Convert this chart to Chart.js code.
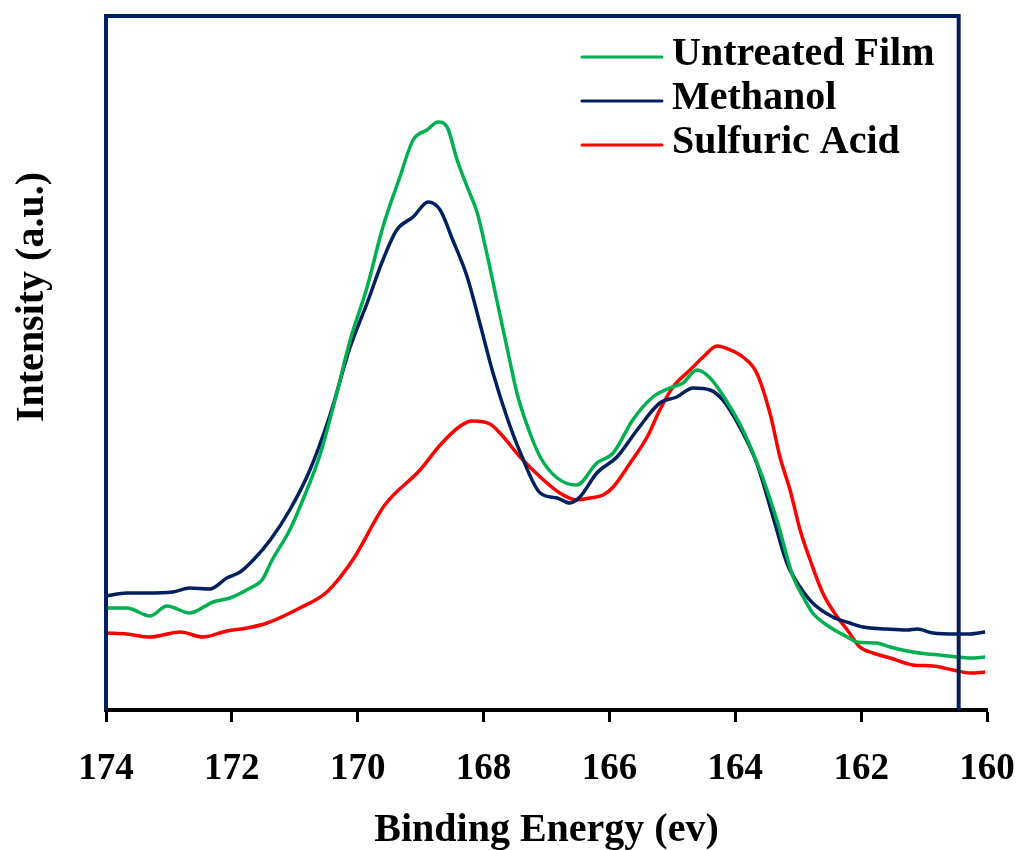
<!DOCTYPE html>
<html>
<head>
<meta charset="utf-8">
<script src="https://cdn.jsdelivr.net/npm/chart.js@4.4.1/dist/chart.umd.min.js"></script>
<style>
  html, body { margin: 0; padding: 0; background: #fff; }
  canvas { display: block; }
</style>
</head>
<body>
<canvas id="xpsChart" width="1021" height="850"></canvas>
<script>
'use strict';

// S 2p spectra (binding energy in eV, intensity in a.u.)
var untreatedEnergy = [174.00, 173.67, 173.30, 173.03, 172.67, 172.30, 172.03, 171.71, 171.52, 171.36,
  171.08, 170.84, 170.60, 170.36, 170.12, 169.85, 169.60, 169.33, 169.12, 168.90, 168.72, 168.58,
  168.42, 168.26, 168.10, 167.95, 167.79, 167.63, 167.47, 167.31, 167.10, 166.83, 166.52, 166.20,
  165.94, 165.63, 165.31, 165.04, 164.83, 164.61, 164.40, 164.13, 163.88, 163.61, 163.34, 163.08,
  162.92, 162.77, 162.50, 162.22, 162.07, 161.75, 161.54, 161.27, 160.95, 160.75, 160.48, 160.27, 160.03];
var untreatedIntensity = [102, 102, 94, 104, 97, 108, 112, 122, 130, 150,
  180, 215, 255, 310, 370, 423, 483, 533, 570, 580, 588, 583,
  550, 523, 497, 457, 410, 363, 317, 285, 253, 232, 225, 247,
  257, 290, 313, 322, 327, 340, 332, 308, 280, 240, 190, 133,
  113, 97, 83, 73, 68, 67, 63, 59, 56, 55, 53, 52, 53];

var methanolEnergy = [174.00, 173.67, 173.35, 172.94, 172.67, 172.35, 172.08, 171.87, 171.66, 171.39,
  171.08, 170.76, 170.44, 170.12, 169.85, 169.60, 169.38, 169.12, 168.88, 168.69, 168.49, 168.26,
  168.06, 167.85, 167.63, 167.42, 167.10, 166.83, 166.63, 166.47, 166.20, 165.88, 165.56, 165.20,
  164.93, 164.67, 164.40, 164.20, 163.93, 163.66, 163.40, 163.18, 162.97, 162.77, 162.45, 162.18,
  161.97, 161.59, 161.27, 161.11, 160.86, 160.48, 160.27, 160.03];
var methanolIntensity = [114, 117, 117, 118, 122, 121, 132, 138, 150, 170,
  200, 240, 295, 363, 407, 450, 480, 493, 508, 500, 470, 433,
  387, 337, 293, 258, 217, 212, 207, 213, 237, 253, 280, 307,
  313, 322, 320, 310, 283, 247, 193, 147, 123, 107, 93, 87,
  83, 81, 80, 81, 77, 76, 76, 78];

var sulfuricEnergy = [174.00, 173.67, 173.30, 172.82, 172.46, 172.08, 171.76, 171.44, 170.92, 170.49,
  170.08, 169.57, 169.01, 168.69, 168.37, 168.18, 167.90, 167.74, 167.42, 167.10, 166.79, 166.52,
  166.31, 166.10, 165.94, 165.67, 165.40, 165.20, 164.99, 164.72, 164.51, 164.29, 164.08, 163.88,
  163.66, 163.45, 163.29, 163.13, 162.97, 162.81, 162.61, 162.38, 162.22, 162.02, 161.81, 161.54,
  161.18, 160.86, 160.54, 160.27, 160.03];
var sulfuricIntensity = [77, 76, 73, 78, 73, 79, 82, 87, 102, 118,
  150, 205, 240, 265, 284, 289, 286, 277, 253, 233, 217, 210,
  212, 215, 223, 247, 273, 300, 323, 340, 353, 364, 360, 353,
  337, 297, 253, 220, 180, 150, 117, 93, 80, 63, 57, 52,
  45, 44, 40, 37, 38];

var seriesLabels = ['Untreated Film', 'Methanol', 'Sulfuric Acid'];
var seriesColors = ['#00B050', '#002060', '#FF0000'];
var xTicks = [174, 172, 170, 168, 166, 164, 162, 160];
var frameRightEnergy = 160.45;

function toPoints(energy, intensity) {
  return energy.map(function (e, i) {
    return {x: e, y: intensity[i]};
  });
}

// box around the plot, right edge stops short of the x axis end
var framePlugin = {
  id: 'frame',
  afterDatasetsDraw: function (chart) {
    var ctx = chart.ctx;
    var area = chart.chartArea;
    var right = chart.scales.x.getPixelForValue(frameRightEnergy);
    ctx.save();
    ctx.strokeStyle = '#002060';
    ctx.lineWidth = 4;
    ctx.beginPath();
    ctx.moveTo(area.left, area.bottom);
    ctx.lineTo(area.left, area.top + 2);
    ctx.lineTo(right, area.top + 2);
    ctx.lineTo(right, area.bottom);
    ctx.stroke();
    ctx.restore();
  }
};

// legend in the top right corner and the rotated y title
var labelsPlugin = {
  id: 'labels',
  afterDraw: function (chart) {
    var ctx = chart.ctx;
    ctx.save();
    ctx.font = 'bold 40px "Liberation Serif", "Times New Roman", serif';
    ctx.fillStyle = '#000';
    ctx.textBaseline = 'alphabetic';
    chart.data.datasets.forEach(function (ds, i) {
      var baseline = 65 + i * 44;
      ctx.strokeStyle = ds.borderColor;
      ctx.lineWidth = 3;
      ctx.lineCap = 'round';
      ctx.beginPath();
      ctx.moveTo(582, baseline - 8);
      ctx.lineTo(662, baseline - 8);
      ctx.stroke();
      ctx.textAlign = 'left';
      ctx.fillText(ds.label, 672, baseline);
    });

    ctx.translate(43, 297);
    ctx.rotate(-Math.PI / 2);
    ctx.textAlign = 'center';
    ctx.fillText('Intensity (a.u.)', 0, 0);
    ctx.restore();
  }
};

var datasets = [
  toPoints(untreatedEnergy, untreatedIntensity),
  toPoints(methanolEnergy, methanolIntensity),
  toPoints(sulfuricEnergy, sulfuricIntensity)
].map(function (points, i) {
  return {
    label: seriesLabels[i],
    data: points,
    borderColor: seriesColors[i],
    backgroundColor: seriesColors[i],
    borderWidth: 3.5,
    pointRadius: 0,
    cubicInterpolationMode: 'monotone',
    fill: false
  };
});

var context = document.getElementById('xpsChart').getContext('2d');
var myChart = new Chart(context, {
  type: 'line',
  data: {datasets: datasets},
  options: {
    responsive: false,
    animation: false,
    layout: {padding: {left: 106, right: 34, top: 14, bottom: 0}},
    plugins: {
      legend: {display: false},
      tooltip: {enabled: false}
    },
    scales: {
      x: {
        type: 'linear',
        reverse: true,
        min: 160,
        max: 174,
        afterFit: function (scale) {
          scale.height = 140;
          // layout padding already leaves room for the end labels
          scale.paddingLeft = 0;
          scale.paddingRight = 0;
        },
        afterBuildTicks: function (scale) {
          scale.ticks = xTicks.map(function (v) {
            return {value: v};
          });
        },
        ticks: {
          color: '#000',
          padding: 25,
          maxRotation: 0,
          font: {family: '"Liberation Serif", "Times New Roman", serif', size: 37, weight: 'bold'}
        },
        grid: {
          drawOnChartArea: false,
          drawTicks: true,
          tickLength: 12,
          tickColor: '#000',
          tickWidth: 3
        },
        border: {color: '#000', width: 4},
        title: {
          display: true,
          text: 'Binding Energy (ev)',
          color: '#000',
          padding: {top: 0, bottom: -5},
          font: {family: '"Liberation Serif", "Times New Roman", serif', size: 40, weight: 'bold'}
        }
      },
      y: {
        display: false,
        min: 0,
        max: 696
      }
    }
  },
  plugins: [framePlugin, labelsPlugin]
});
</script>
</body>
</html>
